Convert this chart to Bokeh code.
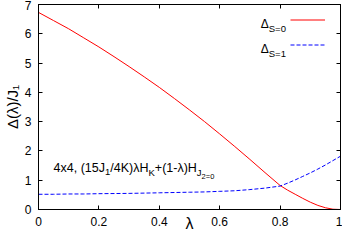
import math
from bokeh.plotting import figure
from bokeh.models import Range1d, LinearAxis, FixedTicker, Label, Legend, LegendItem
from bokeh.embed import file_html
from bokeh.resources import INLINE

# ---- data ----
lam = [0.00, 0.05, 0.10, 0.15, 0.20, 0.25, 0.30, 0.35, 0.40, 0.45, 0.50, 0.55,
       0.60, 0.65, 0.70, 0.75, 0.80, 0.825, 0.85, 0.875, 0.90, 0.925, 0.95, 0.975, 1.00]
gap_s0 = [6.73, 6.45, 6.17, 5.86, 5.55, 5.22, 4.88, 4.53, 4.17, 3.79, 3.40, 3.00,
          2.58, 2.15, 1.71, 1.26, 0.82, 0.66, 0.52, 0.38, 0.25, 0.14, 0.06, 0.01, 0.00]
gap_s1 = [0.52, 0.52, 0.53, 0.53, 0.54, 0.545, 0.55, 0.56, 0.57, 0.58, 0.59, 0.60,
          0.62, 0.64, 0.68, 0.73, 0.80, 0.90, 1.01, 1.13, 1.25, 1.38, 1.52, 1.67, 1.82]

x_ticks = [0, 0.2, 0.4, 0.6, 0.8, 1]
x_tick_labels = ["0", "0.2", "0.4", "0.6", "0.8", "1"]
y_ticks = [0, 1, 2, 3, 4, 5, 6, 7]
y_tick_labels = ["0", "1", "2", "3", "4", "5", "6", "7"]
x_title = "λ"
y_title = "Δ(λ)/J₁"

FONT = "Liberation Sans"

# approximate advance widths (per 1000 em) for composing subscripts
W = {'4': 556, 'x': 500, ',': 278, ' ': 278, '(': 333, '1': 556, '5': 556, 'J': 500,
     '/': 278, 'K': 667, ')': 333, 'H': 722, '+': 584, '-': 333, '2': 556, '=': 584,
     '0': 556, 'S': 667, 'Δ': 668, 'λ': 500}


def tw(s, size):
    return sum(W.get(c, 556) for c in s) * size / 1000.0


p = figure(width=342, height=237, x_range=Range1d(0, 1), y_range=Range1d(0, 7),
           output_backend="svg", toolbar_location=None,
           min_border_left=29, min_border_right=2, min_border_top=4, min_border_bottom=28)
p.background_fill_color = "white"
p.border_fill_color = "white"
p.outline_line_color = "black"
p.xgrid.grid_line_color = None
p.ygrid.grid_line_color = None

bottom_ax = p.below[0]
left_ax = p.left[0]


def style_axis(ax, ticks, labels, show_labels=True, standoff=7):
    ax.ticker = FixedTicker(ticks=ticks)
    ax.major_label_overrides = {t: l for t, l in zip(ticks, labels)}
    ax.axis_line_color = "black"
    ax.axis_line_width = 1
    ax.major_tick_line_color = "black"
    ax.major_tick_in = 4
    ax.major_tick_out = 0
    ax.minor_tick_line_color = None
    ax.major_label_text_font = FONT
    if show_labels:
        ax.major_label_text_color = "black"
        ax.major_label_text_font_size = "12px"
        ax.major_label_standoff = standoff
    else:
        ax.major_label_text_color = None
        ax.major_label_text_font_size = "1px"
        ax.major_label_standoff = 0


style_axis(bottom_ax, x_ticks, x_tick_labels, True, 7)
style_axis(left_ax, y_ticks, y_tick_labels, True, 7)
top_ax = LinearAxis()
style_axis(top_ax, x_ticks, x_tick_labels, False)
p.add_layout(top_ax, "above")
right_ax = LinearAxis()
style_axis(right_ax, y_ticks, y_tick_labels, False)
p.add_layout(right_ax, "right")

bottom_ax.axis_label = x_title
bottom_ax.axis_label_text_font = FONT
bottom_ax.axis_label_text_font_size = "16px"
bottom_ax.axis_label_text_font_style = "normal"
bottom_ax.axis_label_text_color = "black"
bottom_ax.axis_label_standoff = -14

left_ax.axis_label = y_title
left_ax.axis_label_text_font = FONT
left_ax.axis_label_text_font_size = "15px"
left_ax.axis_label_text_font_style = "normal"
left_ax.axis_label_text_color = "black"
left_ax.axis_label_standoff = 1

r0 = p.line(lam, gap_s0, line_color="#ff0000", line_width=1)
r1 = p.line(lam, gap_s1, line_color="#0000ff", line_width=1, line_dash="4 2")

legend = Legend(items=[LegendItem(label=" ", renderers=[r0]),
                       LegendItem(label=" ", renderers=[r1])],
                location="top_right", orientation="vertical",
                glyph_width=35, glyph_height=25, label_height=25, label_width=12,
                label_standoff=0, padding=0, spacing=0, margin=3,
                border_line_color=None, background_fill_alpha=0,
                label_text_font_size="12px", label_text_font=FONT)
p.add_layout(legend)


def rich(parts, x, y, dx0=0.0, dy0=0.0):
    off = 0.0
    for text, size, drop in parts:
        p.add_layout(Label(x=x, y=y, x_offset=dx0 + off, y_offset=dy0 - drop, text=text,
                           text_font=FONT, text_font_size=f"{size}px",
                           text_baseline="alphabetic", text_align="left",
                           text_color="black"))
        off += tw(text, size)


# legend texts
rich([("Δ", 12, 0), ("S=0", 9.5, 4.5)], 0.736, 6.33)
rich([("Δ", 12, 0), ("S=1", 9.5, 4.5)], 0.736, 5.48)

# annotation
rich([("4x4, (15J", 12.5, 0), ("1", 9.5, 4), ("/4K)λH", 12.5, 0), ("K", 9.5, 4),
      ("+(1-λ)H", 12.5, 0), ("J", 9.5, 4), ("2=0", 7.5, 8)], 0.05, 1.41)

open("out.html", "w").write(file_html(p, INLINE))
